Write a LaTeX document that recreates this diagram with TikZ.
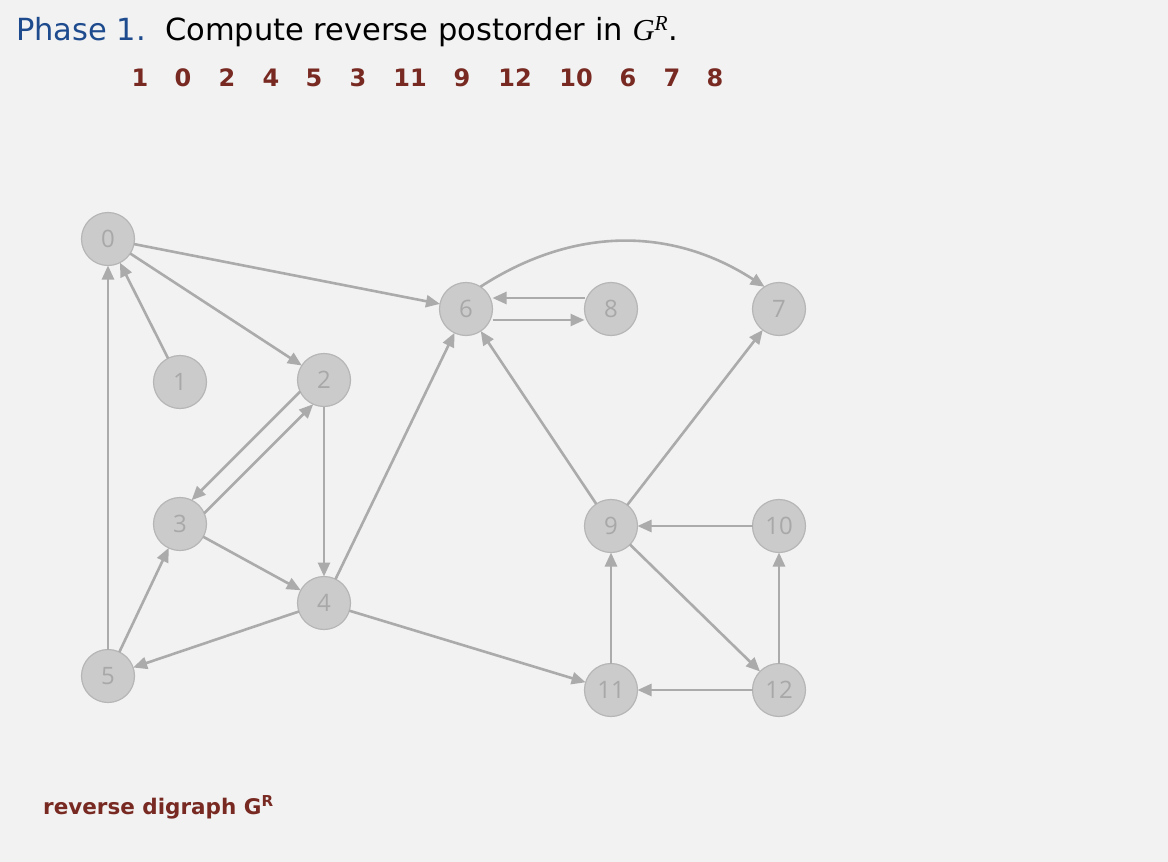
\documentclass[tikz,border=0pt]{standalone}
\usepackage{fontspec}
\setmainfont{DejaVu Sans}
\newfontfamily\opensans{Open Sans}
\newfontfamily\serifit{Liberation Serif}
\usetikzlibrary{arrows.meta}
\definecolor{bgc}{HTML}{F2F2F2}
\definecolor{nfill}{HTML}{CBCBCB}
\definecolor{nborder}{HTML}{B6B6B6}
\definecolor{ntext}{HTML}{A8A8A8}
\definecolor{ecol}{HTML}{ABABAB}
\definecolor{titleblue}{HTML}{1E4B8E}
\definecolor{darkred}{HTML}{782A22}
\tikzset{
  vtx/.style={circle, minimum size=53pt, inner sep=0pt, outer sep=0pt, fill=nfill, draw=nborder, line width=1.2pt, text=ntext, font=\opensans\fontsize{24}{26}\selectfont},
  edge/.style={draw=ecol, line width=2.6pt, -{Triangle[length=14pt,width=12pt]}},
  ordnum/.style={text=darkred, font=\fontsize{24}{28}\selectfont\bfseries, inner sep=0pt, anchor=base}
}
\begin{document}
\begin{tikzpicture}[x=1pt,y=-1pt]
\fill[bgc] (0,0) rectangle (1168,862);
\useasboundingbox (0,0) rectangle (1168,862);
% title
\node[anchor=base west, inner sep=0pt, text=titleblue, font=\fontsize{30.5}{34}\selectfont] (ph) at (16,40) {Phase 1.};
\node[anchor=base west, inner sep=0pt, font=\fontsize{30.5}{34}\selectfont] (tt) at (165,40) {Compute reverse postorder in {\serifit\itshape G\textsuperscript{R}}.};
% order
\foreach \n/\x in {1/140,0/183,2/227,4/271,5/314,3/358,11/410,9/462,12/515,10/576,6/628,7/672,8/715}{
  \node[ordnum] (o\n) at (\x,86) {\n};
}
% vertices
\node[vtx] (v0) at (108,239) {0};
\node[vtx] (v1) at (180,382) {1};
\node[vtx] (v2) at (324,380) {2};
\node[vtx] (v3) at (180,524) {3};
\node[vtx] (v4) at (324,603) {4};
\node[vtx] (v5) at (108,676) {5};
\node[vtx] (v6) at (466,309) {6};
\node[vtx] (v8) at (611,309) {8};
\node[vtx] (v7) at (779,309) {7};
\node[vtx] (v9) at (611,526) {9};
\node[vtx] (v10) at (779,526) {10};
\node[vtx] (v11) at (611,690) {11};
\node[vtx] (v12) at (779,690) {12};
% edges
\draw[edge] (v0) -- (v6);
\draw[edge] (v0) -- (v2);
\draw[edge] (v1) -- (v0);
\draw[edge] (v5) -- (v0);
\draw[edge] (v2.206) -- (v3.64);
\draw[edge] (v3.24) -- (v2.246);
\draw[edge] (v2) -- (v4);
\draw[edge] (v3) -- (v4);
\draw[edge] (v4) -- (v5);
\draw[edge] (v5) -- (v3);
\draw[edge] (v4) -- (v6);
\draw[edge] (v4) -- (v11);
\draw[edge] ([yshift=-11pt]v6.east) -- ([yshift=-11pt]v8.west);
\draw[edge] ([yshift=11pt]v8.west) -- ([yshift=11pt]v6.east);
\draw[edge] (v6.57) to[out=33,in=147] (v7.123);
\draw[edge] (v9) -- (v6);
\draw[edge] (v9) -- (v7);
\draw[edge] (v10) -- (v9);
\draw[edge] (v9) -- (v12);
\draw[edge] (v11) -- (v9);
\draw[edge] (v12) -- (v11);
\draw[edge] (v12) -- (v10);
% caption
\node[anchor=base west, inner sep=0pt, text=darkred, font=\fontsize{21.5}{24}\selectfont\bfseries] (cap) at (43,814) {reverse digraph G\textsuperscript{R}};
\end{tikzpicture}
\end{document}
